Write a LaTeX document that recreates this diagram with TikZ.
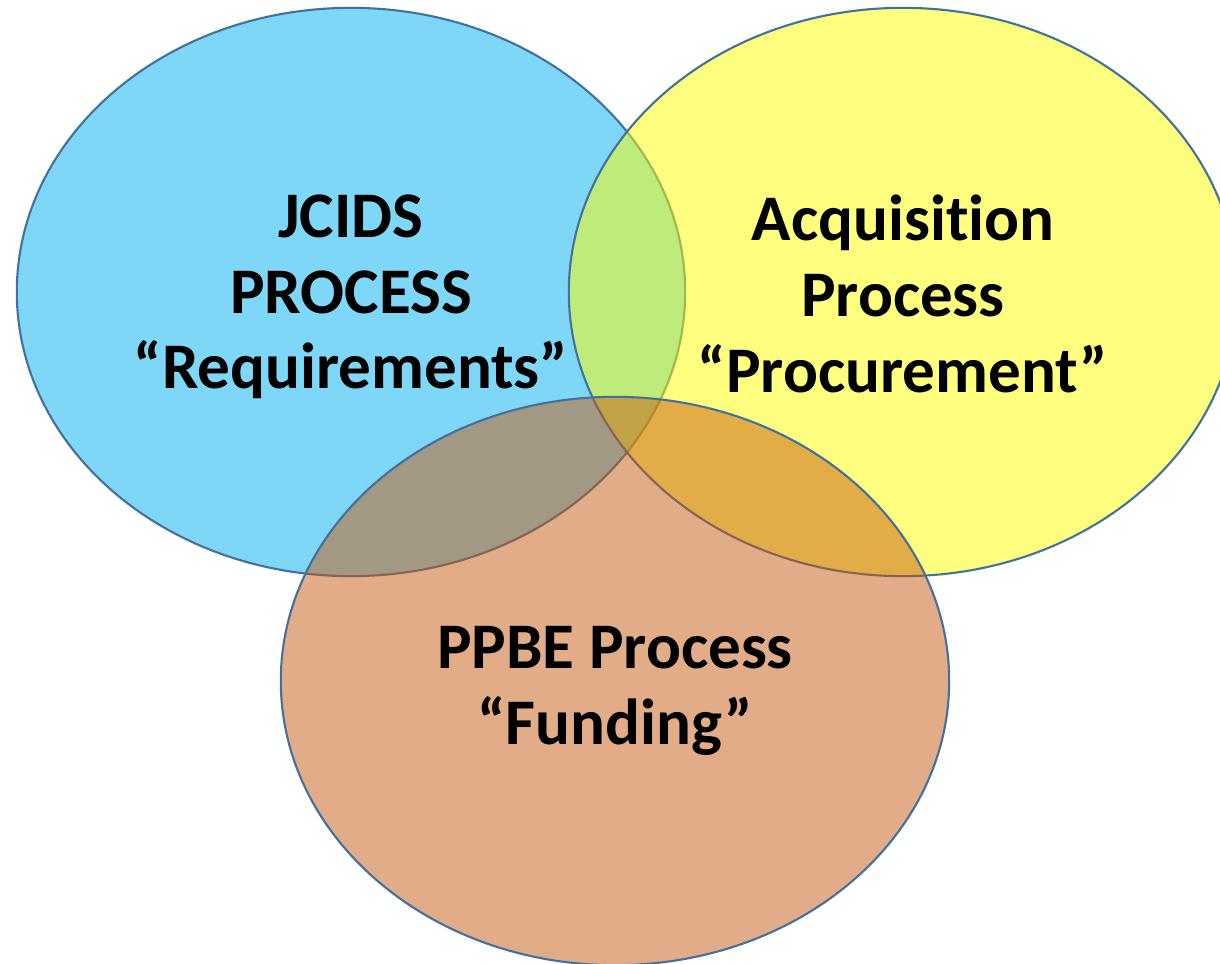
\documentclass[tikz,border=0pt]{standalone}
\usepackage{fontspec}
\setmainfont[Ligatures={TeX,NoCommon}]{Carlito}
\usetikzlibrary{shapes.geometric}
\definecolor{jcidsblue}{HTML}{00B0F0}
\definecolor{acqyellow}{HTML}{FFFF00}
\definecolor{ppbeorange}{HTML}{C55A11}
\definecolor{vennline}{HTML}{41719C}
\begin{document}
\begin{tikzpicture}[x=0.01cm,y=-0.01cm]

      \tikzset{process/.style={draw=vennline, ellipse, line width=0.6pt, inner sep=0pt, minimum width=6.68cm, minimum height=5.68cm, fill opacity=0.5},
               caption/.style={align=center, text=black, font=\bfseries\fontsize{18.5}{21.5}\selectfont}}
      \useasboundingbox (0,0) rectangle (1220,964);
%% Processes
      	\node[process, fill=jcidsblue] (jcids) at (351,292) {};
      	\node[process, fill=acqyellow] (acq) at (903,292) {};
      	\node[process, fill=ppbeorange] (ppbe) at (615,681) {};
%Labels
		\node[caption, yshift=-0.05cm] (jcidslabel) at (jcids.center) {JCIDS\\PROCESS\\“Requirements”};
		\node[caption, yshift=-0.02cm] (acqlabel) at (acq.center) {Acquisition\\Process\\“Procurement”};
		\node[caption, yshift=-0.1cm] (ppbelabel) at (ppbe.center) {PPBE Process\\“Funding”};

	\end{tikzpicture}
\end{document}
